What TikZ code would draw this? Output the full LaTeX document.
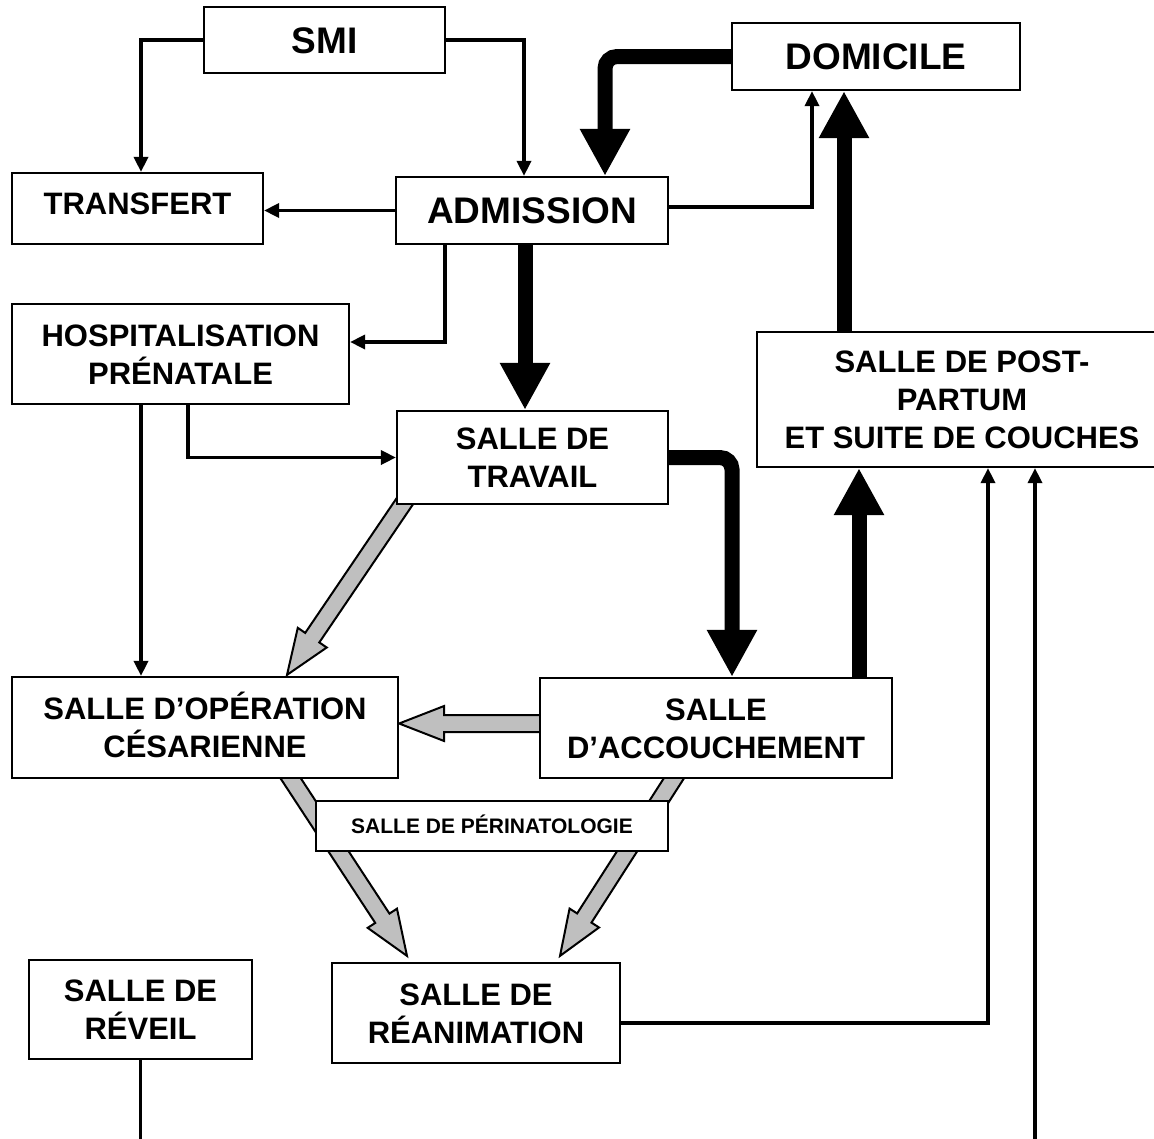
\documentclass[tikz,border=0pt]{standalone}
\usepackage{fontspec}
\setmainfont{Liberation Sans}
\usetikzlibrary{arrows.meta,calc,backgrounds}
\newcommand\lnstrut{\rule[-7.9pt]{0pt}{38pt}}
\newcommand\hollowarrow[2]{%
  \coordinate (hb) at ($(#2)!45pt!(#1)$);
  \filldraw[grayarrow] ($(#1)!8.5pt!90:(#2)$) -- ($(hb)!8.5pt!90:(#2)$) -- ($(hb)!17.5pt!90:(#2)$) -- (#2)
     -- ($(hb)!17.5pt!-90:(#2)$) -- ($(hb)!8.5pt!-90:(#2)$) -- ($(#1)!8.5pt!-90:(#2)$) -- cycle;}
\tikzset{
 box/.style={draw, fill=white, line width=2.2pt, inner sep=0pt, align=center},
 big/.style={font=\fontsize{37}{44}\selectfont\bfseries, text height=26.5pt, text depth=0pt},
 mid/.style={font=\fontsize{31}{38}\selectfont\bfseries},
 small/.style={font=\fontsize{21}{25}\selectfont\bfseries, text height=15pt, text depth=0pt},
 thinarrow/.style={line width=3.5pt, -{Triangle[width=14pt,length=15pt]}},
 thinline/.style={line width=3.5pt},
 thickarrow/.style={line width=15pt, -{Triangle[width=47pt,length=47pt]}, rounded corners=12pt},
 grayarrow/.style={fill=black!25, draw=black, line width=2pt, line join=miter},
}
\begin{document}
\begin{tikzpicture}[x=1pt,y=-1pt]
\useasboundingbox (0,0) rectangle (1154,1138);
\clip (0,0) rectangle (1154,1138);
% boxes
\node[box,big,minimum width=241pt,minimum height=66pt] (smi) at (324.5,40) {SMI};
\node[box,big,minimum width=288pt,minimum height=67pt] (dom) at (876,56.5) {DOMICILE};
\node[box,mid,minimum width=251pt,minimum height=71pt,text height=22.2pt,text depth=10pt] (transfert) at (137.5,208.5) {TRANSFERT};
\node[box,big,minimum width=272pt,minimum height=67pt] (admission) at (532,210.5) {ADMISSION};
\node[box,mid,minimum width=337pt,minimum height=100pt] (hosp) at (180.5,354) {\lnstrut HOSPITALISATION\\\lnstrut PRÉNATALE};
\node[box,mid,minimum width=410pt,minimum height=135pt] (post) at (962,399.5) {\lnstrut SALLE DE POST-\\\lnstrut PARTUM\\\lnstrut ET SUITE DE COUCHES};
\node[box,mid,minimum width=271pt,minimum height=93pt] (travail) at (532.5,457.5) {\lnstrut SALLE DE\\\lnstrut TRAVAIL};
\node[box,mid,minimum width=386pt,minimum height=101pt] (operation) at (205,727.5) {\lnstrut SALLE D’OPÉRATION\\\lnstrut CÉSARIENNE};
\node[box,mid,minimum width=352pt,minimum height=100pt] (accouchement) at (716,728) {\lnstrut SALLE\\\lnstrut D’ACCOUCHEMENT};
\node[box,small,minimum width=352pt,minimum height=50pt] (perinat) at (492,826) {SALLE DE PÉRINATOLOGIE};
\node[box,mid,minimum width=223pt,minimum height=99pt] (reveil) at (140.5,1009.5) {\lnstrut SALLE DE\\\lnstrut RÉVEIL};
\node[box,mid,minimum width=288pt,minimum height=100pt] (reanimation) at (476,1013) {\lnstrut SALLE DE\\\lnstrut RÉANIMATION};
\coordinate (botL) at (140.5,1150);
\coordinate (botR) at (1035,1150);
% gray hollow arrows (behind boxes)
\begin{scope}[on background layer]
\coordinate (pS) at ([xshift=-122.5pt,yshift=-36.1pt]travail.center);
\coordinate (pT) at ([xshift=82pt,yshift=1pt]operation.north);
\coordinate (qS) at ([xshift=5pt,yshift=4.5pt]accouchement.west);
\coordinate (qT) at ([yshift=4pt]operation.east);
\coordinate (rS) at ([xshift=77pt,yshift=14pt]operation.south);
\coordinate (rT) at ([xshift=-69pt,yshift=6pt]reanimation.north);
\coordinate (sS) at ([xshift=-33pt,yshift=15pt]accouchement.south);
\coordinate (sT) at ([xshift=84pt,yshift=6pt]reanimation.north);
\hollowarrow{pS}{pT}
\hollowarrow{qS}{qT}
\hollowarrow{rS}{rT}
\hollowarrow{sS}{sT}
\end{scope}
% thin connectors
\draw[thinarrow] (smi.west) -| ([xshift=3.5pt]transfert.north);
\draw[thinarrow] (smi.east) -| ([xshift=-8pt]admission.north);
\draw[thinarrow] (admission.west) -- (admission.west -| transfert.east);
\draw[thinarrow] ([yshift=3.5pt]admission.east) -| ([xshift=-64pt]dom.south);
\draw[thinarrow] ([xshift=-87pt]admission.south) |- ([yshift=12pt]hosp.east);
\draw[thinarrow] ([xshift=7.5pt]hosp.south) |- (travail.west);
\draw[thinarrow] ([xshift=-39.5pt]hosp.south) -- ([xshift=-64pt]operation.north);
\draw[thinline] (reveil.south) -- (botL);
\draw[thinarrow] ([yshift=-10pt]reanimation.east) -| ([xshift=26pt]post.south);
\draw[thinarrow] (botR) -- ([xshift=73pt]post.south);
% thick connectors
\draw[thickarrow] (dom.west) -| ([xshift=73pt]admission.north);
\draw[thickarrow] ([xshift=-7pt]admission.south) -- ([xshift=-7.5pt]travail.north);
\draw[thickarrow] (travail.east) -| ([xshift=16pt]accouchement.north);
\draw[thickarrow] ([xshift=143pt]accouchement.north) -- ([xshift=-103pt]post.south);
\draw[thickarrow] ([xshift=-118pt]post.north) -- ([xshift=-32pt]dom.south);
\end{tikzpicture}
\end{document}
